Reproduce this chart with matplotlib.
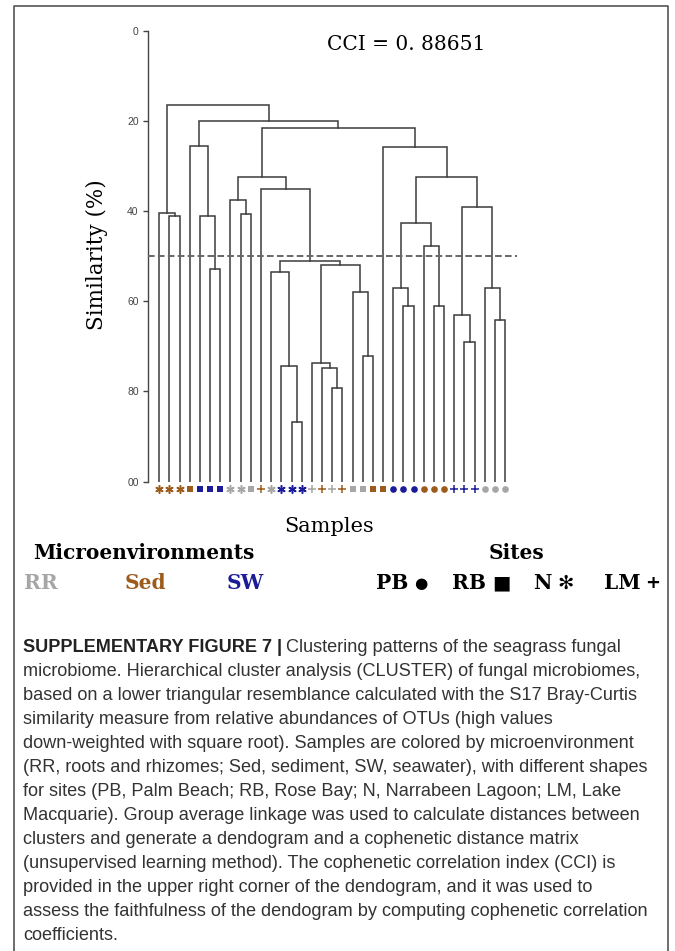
import matplotlib
matplotlib.use("Agg")
import matplotlib.pyplot as plt
from matplotlib.lines import Line2D

W, H = 675, 951

# leaf annotations, left to right
sites = ['N', 'N', 'N', 'RB', 'RB', 'RB', 'RB', 'N', 'N', 'RB', 'LM', 'N',
         'N', 'N', 'N', 'LM', 'LM', 'LM', 'LM', 'RB', 'RB', 'RB', 'RB',
         'PB', 'PB', 'PB', 'PB', 'PB', 'PB', 'LM', 'LM', 'LM', 'PB', 'PB', 'PB']
envs = ['Sed', 'Sed', 'Sed', 'Sed', 'SW', 'SW', 'SW', 'RR', 'RR', 'RR', 'Sed', 'RR',
        'SW', 'SW', 'SW', 'RR', 'Sed', 'RR', 'Sed', 'RR', 'RR', 'Sed', 'Sed',
        'SW', 'SW', 'SW', 'Sed', 'Sed', 'Sed', 'SW', 'SW', 'SW', 'RR', 'RR', 'RR']

# merges (left node, right node, similarity %); new node id = n_leaves + row index
merges = [
    (1, 2, 41.0), (0, 35, 40.5), (5, 6, 52.9), (4, 37, 41.0), (3, 38, 25.5),
    (8, 9, 40.7), (7, 40, 37.5), (13, 14, 86.7), (12, 42, 74.3), (11, 43, 53.6),
    (17, 18, 79.3), (16, 45, 74.9), (15, 46, 73.6), (20, 21, 72.1), (19, 48, 58.0),
    (47, 49, 52.0), (44, 50, 51.1), (10, 51, 35.2), (41, 52, 32.4), (24, 25, 61.0),
    (23, 54, 57.1), (27, 28, 61.0), (26, 56, 47.7), (55, 57, 42.6), (30, 31, 69.1),
    (29, 59, 63.0), (33, 34, 64.1), (32, 61, 57.1), (60, 62, 39.2), (58, 63, 32.4),
    (22, 64, 25.7), (53, 65, 21.6), (39, 66, 20.0), (36, 67, 16.4),
]
cut_level = 50
cci_text = "CCI = 0. 88651"
yticks = [0, 20, 40, 60, 80, 100]
ytick_labels = ['0', '20', '40', '60', '80', '00']

env_colors = {'RR': '#a6a6a6', 'Sed': '#9c5a1c', 'SW': '#1c1c98'}
site_markers = {'PB': 'o', 'RB': 's', 'N': (6, 2, 0), 'LM': '+'}
site_symbols = {'PB': '\u25cf', 'RB': '\u25a0', 'N': '\u273b', 'LM': '+'}

caption = [
    "microbiome. Hierarchical cluster analysis (CLUSTER) of fungal microbiomes,",
    "based on a lower triangular resemblance calculated with the S17 Bray-Curtis",
    "similarity measure from relative abundances of OTUs (high values",
    "down-weighted with square root). Samples are colored by microenvironment",
    "(RR, roots and rhizomes; Sed, sediment, SW, seawater), with different shapes",
    "for sites (PB, Palm Beach; RB, Rose Bay; N, Narrabeen Lagoon; LM, Lake",
    "Macquarie). Group average linkage was used to calculate distances between",
    "clusters and generate a dendogram and a cophenetic distance matrix",
    "(unsupervised learning method). The cophenetic correlation index (CCI) is",
    "provided in the upper right corner of the dendogram, and it was used to",
    "assess the faithfulness of the dendogram by computing cophenetic correlation",
    "coefficients.",
]


def fx(px):
    return px / W


def fy(py):
    return 1 - py / H


fig = plt.figure(figsize=(W / 100, H / 100), dpi=100)
ax = fig.add_axes([fx(147.7), fy(481.7), (516.7 - 147.7) / W, (481.7 - 30.7) / H])

# dendrogram
n = len(sites)
pos = {i: float(i) for i in range(n)}
hgt = {i: 100.0 for i in range(n)}
for k, (a, b, s) in enumerate(merges):
    ax.plot([pos[a], pos[a], pos[b], pos[b]], [hgt[a], s, s, hgt[b]],
            color='#3c3c3c', lw=1.1, solid_joinstyle='miter', zorder=2)
    pos[n + k] = (pos[a] + pos[b]) / 2
    hgt[n + k] = s

ax.axhline(cut_level, color='#666666', lw=1.4, ls=(0, (3.4, 1.7)), zorder=3)

for i in range(n):
    m = site_markers[sites[i]]
    c = env_colors[envs[i]]
    if m == '+' or isinstance(m, tuple):
        ax.plot(i, 101.7, marker=m, ms=6, mew=1.1, color=c, clip_on=False, ls='')
    else:
        ax.plot(i, 101.7, marker=m, ms=4.8, mew=0, color=c, clip_on=False, ls='')

ax.set_xlim(-1.14, 35.14)
ax.set_ylim(100, 0)
ax.set_xticks([])
ax.set_yticks(yticks)
ax.set_yticklabels(ytick_labels, fontsize=7.5, color='#444444', family='Liberation Sans')
ax.tick_params(axis='y', length=3.5, width=1, color='#444444', pad=3)
for side in ('top', 'right', 'bottom'):
    ax.spines[side].set_visible(False)
ax.spines['left'].set_color('#444444')
ax.spines['left'].set_linewidth(1)

serif = ['DejaVu Serif']
fig.text(fx(406), fy(44.7), cci_text, fontsize=14.5, family=serif,
         ha='center', va='center')
fig.text(fx(97), fy(255), "Similarity (%)", fontsize=15.5, family=serif,
         rotation=90, ha='center', va='center')
fig.text(fx(329), fy(527), "Samples", fontsize=15, family=serif,
         ha='center', va='center')

# legend
fig.text(fx(143.5), fy(553), "Microenvironments", fontsize=14.5, family=serif,
         weight='bold', ha='center', va='center')
fig.text(fx(516.7), fy(553), "Sites", fontsize=14.5, family=serif,
         weight='bold', ha='center', va='center')
for label, x in zip(['RR', 'Sed', 'SW'], [24, 125, 227]):
    fig.text(fx(x), fy(583), label, fontsize=14.5, family=serif, weight='bold',
             color=env_colors[label], ha='left', va='center')
site_order = ['PB', 'RB', 'N', 'LM']
label_x = [375.7, 451.7, 533, 604]
symbol_x = [421, 501, 566, 652.5]
symbol_size = [11, 14, 14, 13]
for s, lx, sx, sz in zip(site_order, label_x, symbol_x, symbol_size):
    fig.text(fx(lx), fy(583), s, fontsize=14.5, family=serif,
             weight='bold', ha='left', va='center')
    fig.text(fx(sx), fy(583), site_symbols[s], fontsize=sz,
             family=['DejaVu Sans'], weight='bold', ha='center', va='center')

# frame
fig.add_artist(Line2D([fx(14), fx(14), fx(668), fx(668)], [0, fy(6), fy(6), 0],
                      transform=fig.transFigure, color='#555555', lw=1.2))

# caption
cap_font = ['Liberation Sans']
cap_size = 13.1
renderer = fig.canvas.get_renderer()
t0 = fig.text(fx(23), fy(647), "SUPPLEMENTARY FIGURE 7 |", fontsize=cap_size,
              family=cap_font, weight='bold', color='#222222', ha='left', va='center')
bb = t0.get_window_extent(renderer)
fig.text(bb.x1 / W + fx(4), fy(647), "Clustering patterns of the seagrass fungal",
         fontsize=cap_size, family=cap_font, color='#333333', ha='left', va='center')
for j, line in enumerate(caption):
    fig.text(fx(23), fy(671 + 24 * j), line, fontsize=cap_size, family=cap_font,
             color='#333333', ha='left', va='center')

fig.savefig("out.png", dpi=100)
